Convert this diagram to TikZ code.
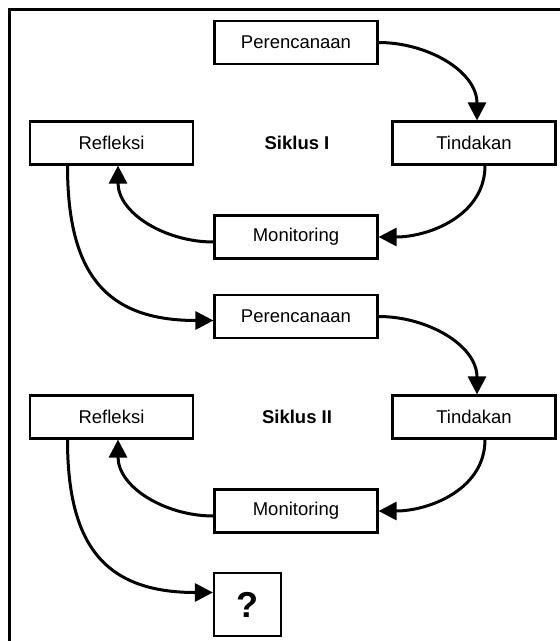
\documentclass[tikz,border=0pt]{standalone}
\usepackage{fontspec}
\setmainfont{Liberation Sans}
\usetikzlibrary{arrows.meta}

\begin{document}
\begin{tikzpicture}[x=1pt,y=-1pt,
    stage/.style={draw,line width=2.2pt,minimum width=163pt,minimum height=43pt,
      inner sep=0pt,font=\fontsize{18.5}{22}\selectfont},
    flow/.style={line width=3pt,-{Triangle[length=18pt,width=18pt]}},
    cycletitle/.style={font=\fontsize{18.5}{22}\selectfont\bfseries}]
  % Page and frame (only top and left edge show)
  \useasboundingbox (0,0) rectangle (560,641);
  \draw[line width=3pt] (9,641) -- (9,9.5) -- (560,9.5);

  % Draw the two cycles
  \foreach \c/\dy/\num in {1/0/I,2/274/II}{
    \begin{scope}[shift={(0,\dy)}]
      \node[stage] (plan\c) at (296,42.5) {Perencanaan};
      \node[stage] (act\c) at (474,143) {Tindakan};
      \node[stage] (mon\c) at (296,237) {Monitoring};
      \node[stage] (refl\c) at (111.5,143) {Refleksi};
      \node[cycletitle] (title\c) at (297,143) {Siklus \num};
    \end{scope}
    % Arrows inside the cycle
    \draw[flow] (plan\c.east) to[out=0,in=90] ([xshift=3pt]act\c.north);
    \draw[flow] ([xshift=11pt]act\c.south) to[out=-90,in=0] (mon\c.east);
    \draw[flow] ([yshift=-5pt]mon\c.west) to[out=180,in=-90] ([xshift=6.5pt]refl\c.south);
  }

  % Next step after each cycle
  \node[stage,minimum width=67pt,minimum height=63pt,font=\fontsize{36}{38}\selectfont\bfseries]
    (next) at (247.5,604.5) {?};
  \draw[flow] ([xshift=-44pt]refl1.south) to[out=-90,in=180,looseness=1.3] ([yshift=-4pt]plan2.west);
  \draw[flow] ([xshift=-44pt]refl2.south) to[out=-90,in=180,looseness=1.3] ([yshift=12pt]next.west);
\end{tikzpicture}
\end{document}
